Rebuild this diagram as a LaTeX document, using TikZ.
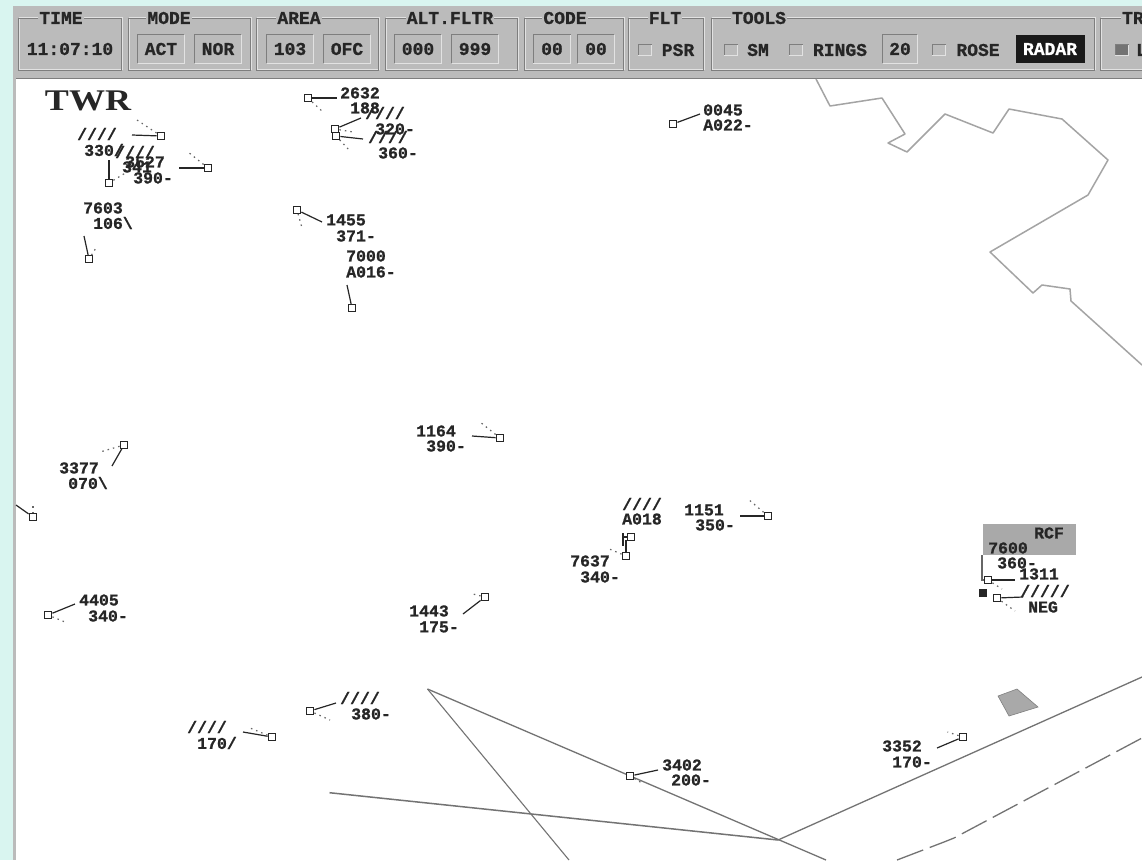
\documentclass[tikz,border=0pt]{standalone}
\usepackage{fontspec}
\setmonofont[BoldFeatures={FakeBold=0.9}]{Liberation Mono}
\newfontfamily\twrfont{Liberation Serif}
\usepackage{xcolor}
\definecolor{screenbg}{HTML}{D9F5F0}
\definecolor{panelgrey}{HTML}{BBBBBB}
\definecolor{etchdark}{HTML}{7E7E7E}
\definecolor{etchlight}{HTML}{E2E2E2}
\definecolor{inkdark}{HTML}{262626}
\definecolor{mapgrey}{HTML}{A4A4A4}
\definecolor{areagrey}{HTML}{A9A9A9}
\tikzset{
  barfont/.style={font=\ttfamily\bfseries\fontsize{18}{18}\selectfont, text=inkdark},
  grouplabel/.style={barfont, fill=panelgrey, inner sep=1pt},
  barlabel/.style={barfont, inner sep=0pt},
  groupbox/.style={anchor=north west, inner sep=0pt},
  fieldbox/.style={barfont, inner sep=0pt, minimum height=28pt, minimum width=46pt},
  checkbox/.style={inner sep=0pt, minimum width=13pt, minimum height=10pt, fill=#1},
  target/.style={draw=inkdark, line width=1.3pt, inner sep=0pt, minimum width=7.5pt, minimum height=6.5pt, fill=white},
  lab/.style={font=\ttfamily\bfseries\fontsize{16.5}{16.5}\selectfont, text=inkdark, inner sep=0pt},
  leader/.style={draw=inkdark, line width=1.2pt},
  trail/.style={draw=black!60, line width=1.2pt, dash pattern=on 1.5pt off 4pt},
  mapline/.style={draw=mapgrey, line width=1.5pt, line join=round},
  airway/.style={draw=black!55, line width=1.3pt}
}
\begin{document}
\begin{tikzpicture}[x=1pt, y=-1pt]
  \useasboundingbox (0,0) rectangle (1142,860);
  \fill[screenbg] (0,0) rectangle (1142,860);
  \fill[panelgrey] (13,6) rectangle (1142,860);
  \fill[white] (16,79) rectangle (1142,860);
  \draw[etchdark] (16,78.5) -- (1142,78.5);

  % Tool bar groups
  \node[groupbox, minimum width=103pt, minimum height=52pt] (gtime) at (18,18) {};
  \node[groupbox, minimum width=122pt, minimum height=52pt] (gmode) at (128,18) {};
  \node[groupbox, minimum width=122pt, minimum height=52pt] (garea) at (256,18) {};
  \node[groupbox, minimum width=132pt, minimum height=52pt] (galt) at (385,18) {};
  \node[groupbox, minimum width=99pt, minimum height=52pt] (gcode) at (524,18) {};
  \node[groupbox, minimum width=75pt, minimum height=52pt] (gflt) at (628,18) {};
  \node[groupbox, minimum width=383pt, minimum height=52pt] (gtools) at (711,18) {};
  \node[groupbox, minimum width=80pt, minimum height=52pt] (gtr) at (1100,18) {};
  \foreach \g in {gtime,gmode,garea,galt,gcode,gflt,gtools,gtr} {
    \draw[etchlight, line width=.8pt] ([shift={(1pt,1pt)}]\g.north west) rectangle ([shift={(1pt,1pt)}]\g.south east);
    \draw[etchdark, line width=.8pt] (\g.north west) rectangle (\g.south east);
  }
  \node[grouplabel] (ltime) at (61,18) {TIME};
  \node[grouplabel] (lmode) at (169,18) {MODE};
  \node[grouplabel] (larea) at (299,18) {AREA};
  \node[grouplabel] (lalt) at (450,18) {ALT.FLTR};
  \node[grouplabel] (lcode) at (565,18) {CODE};
  \node[grouplabel] (lflt) at (665,18) {FLT};
  \node[grouplabel] (ltools) at (759,18) {TOOLS};
  \node[grouplabel, anchor=west] (ltr) at (1121,18) {TR};
  \node[barlabel] (clock) at (70,49) {11:07:10};

  % Sunken fields
  \node[fieldbox] (fact) at (161,49) {ACT};
  \node[fieldbox] (fnor) at (218,49) {NOR};
  \node[fieldbox] (f103) at (290,49) {103};
  \node[fieldbox] (fofc) at (347,49) {OFC};
  \node[fieldbox] (f000) at (418,49) {000};
  \node[fieldbox] (f999) at (475,49) {999};
  \node[fieldbox, minimum width=37pt] (fc1) at (552,49) {00};
  \node[fieldbox, minimum width=36pt] (fc2) at (596,49) {00};
  \node[fieldbox, minimum width=34pt] (frings) at (900,49) {20};
  \foreach \f in {fact,fnor,f103,fofc,f000,f999,fc1,fc2,frings} {
    \draw[etchdark, line width=1.2pt] (\f.south west) -- (\f.north west) -- (\f.north east);
    \draw[etchlight, line width=1.2pt] (\f.south west) -- (\f.south east) -- (\f.north east);
  }
  \node[fieldbox, fill=black!90, text=white, minimum width=69pt] (fradar) at (1050,49) {RADAR};

  % Check boxes
  \node[checkbox=panelgrey] (bpsr) at (645,50) {};
  \node[checkbox=panelgrey] (bsm) at (731,50) {};
  \node[checkbox=panelgrey] (brings) at (796,50) {};
  \node[checkbox=panelgrey] (brose) at (939,50) {};
  \node[checkbox=black!55] (btr) at (1122,50) {};
  \foreach \b in {bpsr,bsm,brings,brose,btr} {
    \draw[etchdark, line width=1pt] (\b.south west) -- (\b.north west) -- (\b.north east);
    \draw[etchlight, line width=1pt] (\b.south west) -- (\b.south east) -- (\b.north east);
  }
  \node[barlabel] (tpsr) at (678,50) {PSR};
  \node[barlabel] (tsm) at (758,50) {SM};
  \node[barlabel] (trings) at (840,50) {RINGS};
  \node[barlabel] (trose) at (978,50) {ROSE};
  \node[barlabel, anchor=west] (ttr) at (1136,50) {L};

  % Map outline
  \coordinate (m0) at (816,79);
  \draw[mapline] (m0) -- (830,106) -- (882,98) -- (905,134) -- (888,143) -- (907,152) -- (945,114)
    -- (993,133) -- (1009,109) -- (1062,119) -- (1108,160) -- (1088,195) -- (990,252) -- (1033,293)
    -- (1042,285) -- (1070,289) -- (1071,301) -- (1142,365);

  % Airways
  \coordinate (apex) at (427.5,689);
  \coordinate (junc) at (778,840);
  \coordinate (w1) at (826,860);
  \coordinate (w2) at (569,860);
  \coordinate (w3) at (329.5,792.7);
  \coordinate (w4) at (1142,677);
  \coordinate (r1) at (897,860);
  \coordinate (r2) at (944,842);
  \coordinate (r3) at (954,838);
  \coordinate (r4) at (1142,738);
  \path[airway] (apex) edge (w1) (apex) edge[line width=1.1pt] (w2);
  \path[airway, line width=1.5pt] (w3) edge (junc) (junc) edge[line width=1.3pt] (w4);
  \draw[airway, dash pattern=on 28pt off 7pt] (r1) -- (r2) -- (r3) -- (r4);
  \filldraw[fill=areagrey, draw=black!50, line width=.6pt] (998,696) -- (1017,689) -- (1038,707) -- (1009,716) -- cycle;

  \fill[areagrey] (983,524) rectangle (1076,555);
  \node[font=\twrfont\bfseries\fontsize{30}{30}\selectfont, xscale=1.2, text=black!85, inner sep=0pt] (twr) at (88,101) {TWR};

  % Targets
  \node[target] (t1) at (161,136) {}; \coordinate (l1) at (132,135); \coordinate (d1) at (137,120);
  \node[target] (t2) at (208,168) {}; \coordinate (l2) at (179,168); \coordinate (d2) at (188,152);
  \node[target] (t3) at (109,183) {}; \coordinate (l3) at (109,160); \coordinate (d3) at (127,172);
  \node[target] (t4) at (89,259) {}; \coordinate (l4) at (84,236); \coordinate (d4) at (96,248);
  \node[target] (t5) at (308,98) {}; \coordinate (l5) at (337,98); \coordinate (d5) at (323,112);
  \node[target] (t6) at (335,129) {}; \coordinate (l6) at (361,118); \coordinate (d6) at (353,132);
  \node[target] (t7) at (336,136) {}; \coordinate (l7) at (363,139); \coordinate (d7) at (350,151);
  \node[target] (t8) at (297,210) {}; \coordinate (l8) at (322,222); \coordinate (d8) at (302,228);
  \node[target] (t9) at (352,308) {}; \coordinate (l9) at (347,285);
  \node[target] (t10) at (673,124) {}; \coordinate (l10) at (700,114);
  \node[target] (t11) at (500,438) {}; \coordinate (l11) at (472,436); \coordinate (d11) at (480,422);
  \node[target] (t12) at (124,445) {}; \coordinate (l12) at (112,466); \coordinate (d12) at (100,452);
  \node[target] (t13) at (33,517) {}; \coordinate (l13) at (16,505); \coordinate (d13) at (33,505);
  \node[target] (t14) at (48,615) {}; \coordinate (l14) at (75,604); \coordinate (d14) at (65,622);
  \node[target] (t15) at (485,597) {}; \coordinate (l15) at (463,614); \coordinate (d15) at (473,594);
  \node[target] (t16) at (631,537) {}; \coordinate (l16a) at (623,533); \coordinate (l16) at (623,546);
  \node[target] (t17) at (626,556) {}; \coordinate (l17) at (626,540); \coordinate (d17) at (607,548);
  \node[target] (t18) at (768,516) {}; \coordinate (l18) at (740,516); \coordinate (d18) at (748,499);
  \node[target] (t19) at (988,580) {}; \coordinate (l19) at (1015,580); \coordinate (d19) at (1002,589);
  \node[target, fill=inkdark] (t20) at (983,593) {}; \coordinate (l19a) at (982,555);
  \node[target] (t21) at (997,598) {}; \coordinate (l21) at (1023,597); \coordinate (d21) at (1015,611);
  \node[target] (t22) at (310,711) {}; \coordinate (l22) at (336,703); \coordinate (d22) at (330,720);
  \node[target] (t23) at (272,737) {}; \coordinate (l23) at (243,732); \coordinate (d23) at (250,728);
  \node[target] (t24) at (630,776) {}; \coordinate (l24) at (658,770); \coordinate (d24) at (642,783);
  \node[target] (t25) at (963,737) {}; \coordinate (l25) at (937,748); \coordinate (d25) at (947.5,732);

  \path[leader]
  (t1) edge (l1) (t2) edge (l2) (t3) edge (l3) (t4) edge (l4) (t5) edge (l5)
  (t6) edge (l6) (t7) edge (l7) (t8) edge (l8) (t9) edge (l9) (t10) edge (l10)
  (t11) edge (l11) (t12) edge (l12) (t13) edge (l13) (t14) edge (l14) (t15) edge (l15)
  (t17) edge (l17) (t18) edge (l18) (t19) edge (l19) (t21) edge (l21)
  (t22) edge (l22) (t23) edge (l23) (t24) edge (l24) (t25) edge (l25);
  \draw[leader] (t16) -| (l16a) -- (l16);
  \draw[leader, draw=black!60] (t19) -| (l19a);
  \path[trail]
  (t1) edge (d1) (t2) edge (d2) (t3) edge (d3) (t4) edge (d4) (t5) edge (d5)
  (t6) edge (d6) (t7) edge (d7) (t8) edge (d8) (t11) edge (d11) (t12) edge (d12)
  (t13) edge (d13) (t14) edge (d14) (t15) edge (d15) (t17) edge (d17) (t18) edge (d18)
  (t19) edge (d19) (t21) edge (d21) (t22) edge (d22) (t23) edge (d23) (t24) edge (d24) (t25) edge (d25);

  % Labels
  \node[lab] (h1) at (97,134) {////};
  \node[lab] (a330) at (104,150) {330/};
  \node[lab] (h2) at (135,152) {////};
  \node[lab] (c3527) at (145,162) {3527};
  \node[lab] (c341) at (137,167) {341};
  \node[lab] (a390) at (153,178) {390-};
  \node[lab] (c7603) at (103,208) {7603};
  \node[lab] (a106) at (113,223) {106\textbackslash};
  \node[lab] (c2632) at (360,93) {2632};
  \node[lab] (a188) at (365,108) {188};
  \node[lab] (h3) at (385,113) {////};
  \node[lab] (a320) at (395,129) {320-};
  \node[lab] (h4) at (388,137) {////};
  \node[lab] (a360) at (398,153) {360-};
  \node[lab] (c1455) at (346,220) {1455};
  \node[lab] (a371) at (356,236) {371-};
  \node[lab] (c7000) at (366,256) {7000};
  \node[lab] (a016) at (371,272) {A016-};
  \node[lab] (c0045) at (723,110) {0045};
  \node[lab] (a022) at (728,125) {A022-};
  \node[lab] (c1164) at (436,431) {1164};
  \node[lab] (b390) at (446,446) {390-};
  \node[lab] (c3377) at (79,468) {3377};
  \node[lab] (a070) at (88,483) {070\textbackslash};
  \node[lab] (c4405) at (99,600) {4405};
  \node[lab] (a340) at (108,616) {340-};
  \node[lab] (c1443) at (429,611) {1443};
  \node[lab] (a175) at (439,627) {175-};
  \node[lab] (h5) at (642,504) {////};
  \node[lab] (a018) at (642,519) {A018};
  \node[lab] (c7637) at (590,561) {7637};
  \node[lab] (b340) at (600,577) {340-};
  \node[lab] (c1151) at (704,510) {1151};
  \node[lab] (a350) at (715,525) {350-};
  \node[lab] (rcf) at (1049,533) {RCF};
  \node[lab] (c7600) at (1008,548) {7600};
  \node[lab] (b360) at (1017,563) {360-};
  \node[lab] (c1311) at (1039,574) {1311};
  \node[lab] (h6) at (1045,591) {/////};
  \node[lab] (neg) at (1043,607) {NEG};
  \node[lab] (h7) at (360,698) {////};
  \node[lab] (a380) at (371,714) {380-};
  \node[lab] (h8) at (207,727) {////};
  \node[lab] (a170) at (217,743) {170/};
  \node[lab] (c3402) at (682,765) {3402};
  \node[lab] (a200) at (691,780) {200-};
  \node[lab] (c3352) at (902,746) {3352};
  \node[lab] (b170) at (912,762) {170-};
\end{tikzpicture}
\end{document}
